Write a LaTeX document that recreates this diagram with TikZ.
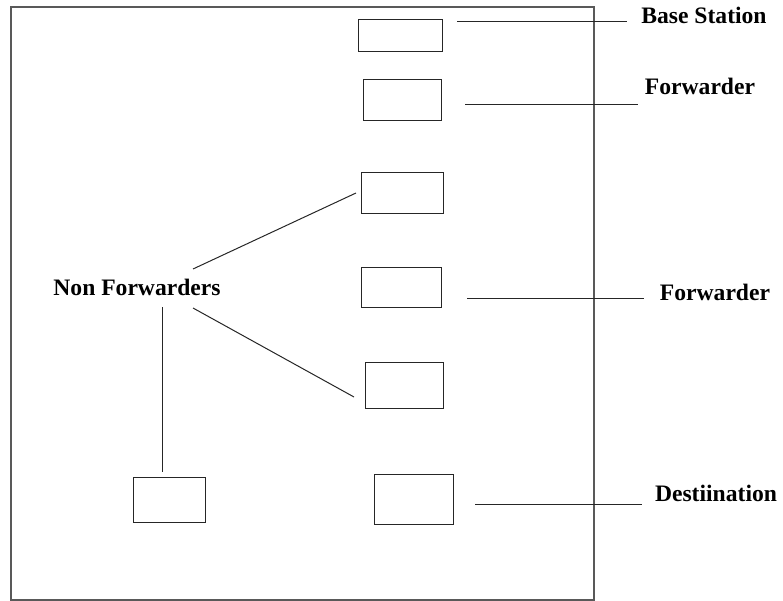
\documentclass[tikz,border=0pt]{standalone}
\usepackage{fontspec}
\setmainfont{Liberation Serif}
\begin{document}
\begin{tikzpicture}[x=1pt,y=-1pt,
  box/.style={draw=black!85, line width=1pt, inner sep=0pt, anchor=north west},
  lbl/.style={font=\fontsize{23.6}{27}\selectfont\bfseries, inner sep=0pt},
  conn/.style={draw=black!85, line width=1pt}]
\useasboundingbox (0,0) rectangle (783,601);
\draw[draw=black!65, line width=1.4pt] (11,7) rectangle (594,600);
% boxes
\node[box, minimum width=84pt, minimum height=32pt] (b1) at (358,19) {};
\node[box, minimum width=78pt, minimum height=41pt] (b2) at (363,79) {};
\node[box, minimum width=82pt, minimum height=41pt] (b3) at (361,172) {};
\node[box, minimum width=80pt, minimum height=40pt] (b4) at (361,267) {};
\node[box, minimum width=78pt, minimum height=46pt] (b5) at (365,362) {};
\node[box, minimum width=72pt, minimum height=45pt] (b6) at (133,477) {};
\node[box, minimum width=79pt, minimum height=50pt] (b7) at (374,474) {};
% labels
\node[lbl] (lbs) at (704,15) {Base Station};
\node[lbl] (lf1) at (700,86) {Forwarder};
\node[lbl] (lf2) at (715,292) {Forwarder};
\node[lbl] (ld) at (716,493) {Destiination};
\node[lbl] (lnf) at (137,287) {Non Forwarders};
% connector end points
\coordinate (s1) at (457,22); \coordinate (e1) at (627,22);
\coordinate (s2) at (465,105); \coordinate (e2) at (638,105);
\coordinate (s3) at (467,298); \coordinate (e3) at (644,298);
\coordinate (s4) at (475,504); \coordinate (e4) at (642,504);
\coordinate (n1) at (193,269); \coordinate (m1) at (356,193);
\coordinate (n2) at (193,308); \coordinate (m2) at (354,397);
\coordinate (n3) at (162,307); \coordinate (m3) at (162,472);
\draw[conn] (s1) -- (e1);
\draw[conn] (s2) -- (e2);
\draw[conn] (s3) -- (e3);
\draw[conn] (s4) -- (e4);
\draw[conn] (n1) -- (m1);
\draw[conn] (n2) -- (m2);
\draw[conn] (n3) -- (m3);
\end{tikzpicture}
\end{document}
